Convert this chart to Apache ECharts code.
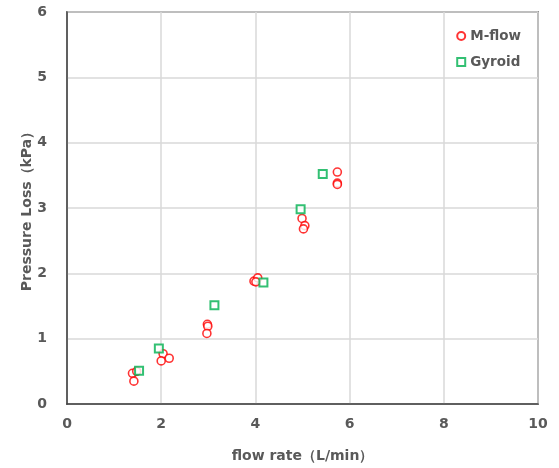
<!DOCTYPE html>
<html lang="en">
<head>
    <meta charset="UTF-8">
    <title>Pressure Loss</title>
</head>
<body style="margin:0;background:#fff">
<div id="chart" style="width:559px;height:468px"></div>
<script src="https://cdn.jsdelivr.net/npm/echarts@6/dist/echarts.min.js"></script>
<script type="text/javascript">
    // flow rate (L/min), pressure loss (kPa)
    var mflowX = [1.39, 1.42, 1.48, 2.04, 2.00, 2.17, 2.98, 2.99, 2.97, 3.97, 4.05, 4.01, 4.99, 5.05, 5.02, 5.74, 5.74, 5.74];
    var mflowY = [0.47, 0.35, 0.50, 0.77, 0.66, 0.70, 1.22, 1.19, 1.08, 1.88, 1.93, 1.87, 2.84, 2.73, 2.68, 3.55, 3.38, 3.36];
    var gyroidX = [1.53, 1.95, 3.13, 4.17, 4.96, 5.43];
    var gyroidY = [0.51, 0.85, 1.51, 1.86, 2.98, 3.52];
    var xTicks = [0, 2, 4, 6, 8, 10];
    var yTicks = [0, 1, 2, 3, 4, 5, 6];

    function pairs(xs, ys) {
        var out = [];
        for (var i = 0; i < xs.length; i++) {
            out.push([xs[i], ys[i]]);
        }
        return out;
    }

    var chart = echarts.init(document.getElementById('chart'));
    var labelStyle = {color: '#595959', fontWeight: 'bold', fontSize: 14, fontFamily: 'DejaVu Sans'};

    var option = {
        animation: false,
        grid: {
            left: 67, right: 21, top: 12, bottom: 64,
            show: true, borderColor: '#404040', borderWidth: 1.5
        },
        legend: {
            orient: 'vertical',
            right: 33, top: 24,
            itemWidth: 8, itemHeight: 8, itemGap: 12, padding: [5, 5],
            textStyle: {color: '#595959', fontWeight: 'bold', fontSize: 13.5, fontFamily: 'DejaVu Sans'},
            data: [
                {name: 'M-flow', icon: 'circle'},
                {name: 'Gyroid', icon: 'rect'}
            ]
        },
        xAxis: {
            type: 'value',
            min: xTicks[0], max: xTicks[xTicks.length - 1], interval: 2,
            name: 'flow rate（L/min）',
            nameLocation: 'middle', nameGap: 45,
            nameTextStyle: labelStyle,
            axisLine: {show: true, lineStyle: {color: '#404040', width: 1.5}},
            axisTick: {show: false},
            axisLabel: Object.assign({margin: 13}, labelStyle),
            splitLine: {show: true, lineStyle: {color: '#d9d9d9', width: 1.5}}
        },
        yAxis: {
            type: 'value',
            min: yTicks[0], max: yTicks[yTicks.length - 1], interval: 1,
            name: 'Pressure Loss（kPa）',
            nameLocation: 'middle', nameGap: 33, nameMoveOverlap: false,
            nameTextStyle: labelStyle,
            axisLine: {show: true, lineStyle: {color: '#404040', width: 1.5}},
            axisTick: {show: false},
            axisLabel: Object.assign({margin: 20}, labelStyle),
            splitLine: {show: true, lineStyle: {color: '#d9d9d9', width: 1.5}}
        },
        series: [
            {
                name: 'M-flow',
                type: 'scatter',
                symbol: 'circle',
                symbolSize: 8,
                itemStyle: {color: '#fff', borderColor: '#ff0000', borderWidth: 1.6},
                data: pairs(mflowX, mflowY)
            },
            {
                name: 'Gyroid',
                type: 'scatter',
                symbol: 'rect',
                symbolSize: 8,
                itemStyle: {color: '#fff', borderColor: '#00b050', borderWidth: 2},
                data: pairs(gyroidX, gyroidY)
            }
        ]
    };
    chart.setOption(option);
</script>
</body>
</html>
